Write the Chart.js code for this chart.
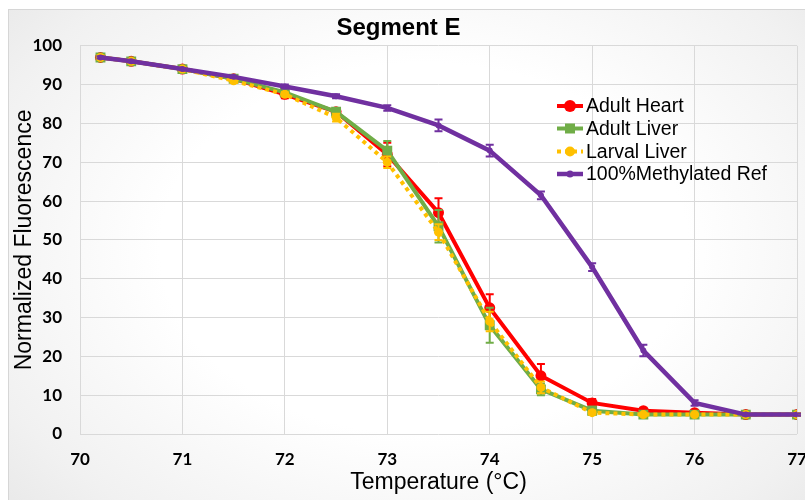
<!DOCTYPE html>
<html>
<head>
<meta charset="utf-8">
<script src="https://cdn.jsdelivr.net/npm/chart.js@4"></script>
<style>
  html, body { margin: 0; padding: 0; background: #fff; }
  #wrap { position: relative; width: 805px; height: 500px; overflow: hidden; }
  #frame {
    position: absolute; left: 8px; top: 9px; width: 830px; height: 530px;
    border: 1px solid #d6d6d6;
    background: radial-gradient(ellipse at 50% 45%, #ffffff 45%, #f1f1f1 80%, #e6e6e6 100%);
  }
  canvas { position: absolute; left: 0; top: 0; }
</style>
</head>
<body>
<div id="wrap">
  <div id="frame"></div>
  <canvas id="meltChart" width="805" height="500"></canvas>
</div>
<script>
const temps = [70.2, 70.5, 71, 71.5, 72, 72.5, 73, 73.5, 74, 74.5, 75, 75.5, 76, 76.5, 77];

const adultHeart   = [97, 96, 94, 91.5, 87.5, 83, 72, 57, 32.5, 15, 8, 6, 5.5, 5, 5];
const adultLiver   = [97, 96, 94, 91.5, 88, 83, 73, 53.5, 28, 11.5, 6, 5, 5, 5, 5];
const larvalLiver  = [97, 96, 94, 91, 87.5, 81.5, 70, 52, 29, 12, 5.5, 5, 5, 5, 5];
const methylRef    = [97, 96, 94, 92, 89.5, 87, 84, 79.5, 73, 61.5, 43, 21.5, 8, 5, 5];

const heartErr  = [0.5, 0.5, 0.5, 0.5, 1, 1, 3, 3.7, 3.5, 3, 1, 0.5, 0.5, 0.3, 0.3];
const liverErr  = [0.5, 0.5, 0.5, 0.5, 0.5, 1, 2.5, 4.2, 4.5, 1.5, 1, 0.5, 0.5, 0.3, 0.3];
const larvalErr = [0.5, 0.5, 0.5, 0.5, 0.5, 1, 1.5, 2, 2.5, 1.5, 0.5, 0.3, 0.3, 0.3, 0.3];
const methylErr = [0.3, 0.3, 0.3, 0.3, 0.5, 0.5, 0.7, 1.5, 1.5, 1, 1, 1.5, 0.7, 0.3, 0.3];

const xTicks = [70, 71, 72, 73, 74, 75, 76, 77];
const yTicks = [0, 10, 20, 30, 40, 50, 60, 70, 80, 90, 100];

const RED = '#ff0000', GREEN = '#70ad47', YELLOW = '#ffc000', PURPLE = '#7030a0';

function pts(values) {
  return temps.map((t, i) => ({ x: t, y: values[i] }));
}

const datasets = [
  { label: 'Adult Heart', data: pts(adultHeart), err: heartErr, borderColor: RED, backgroundColor: RED,
    borderWidth: 4, pointStyle: 'circle', pointRadius: 5.5, pointBorderWidth: 0, order: 4 },
  { label: 'Adult Liver', data: pts(adultLiver), err: liverErr, borderColor: GREEN, backgroundColor: GREEN,
    borderWidth: 4, pointStyle: 'rect', pointRadius: 7, pointBorderWidth: 0, order: 3 },
  { label: 'Larval Liver', data: pts(larvalLiver), err: larvalErr, borderColor: YELLOW, backgroundColor: YELLOW,
    borderWidth: 4, borderDash: [4, 4], pointStyle: 'circle', pointRadius: 4.5, pointBorderWidth: 0, order: 2 },
  { label: '100%Methylated Ref', data: pts(methylRef), err: methylErr, borderColor: PURPLE, backgroundColor: PURPLE,
    borderWidth: 4.5, pointStyle: 'circle', pointRadius: 3, pointBorderWidth: 0, order: 1 }
];

// error bars drawn right after each line so the layering matches
const errorBars = {
  id: 'errorBars',
  afterDatasetDraw(chart, args) {
    const ds = chart.data.datasets[args.index];
    const xs = chart.scales.x, ys = chart.scales.y;
    const c = chart.ctx;
    c.save();
    c.strokeStyle = ds.borderColor;
    c.lineWidth = 2;
    ds.data.forEach((p, i) => {
      const e = ds.err[i];
      if (!e) return;
      const px = xs.getPixelForValue(p.x);
      const top = ys.getPixelForValue(p.y + e);
      const bot = ys.getPixelForValue(p.y - e);
      c.beginPath();
      c.moveTo(px, top); c.lineTo(px, bot);
      c.moveTo(px - 4, top); c.lineTo(px + 4, top);
      c.moveTo(px - 4, bot); c.lineTo(px + 4, bot);
      c.stroke();
    });
    c.restore();
  }
};

const insideLegend = {
  id: 'insideLegend',
  afterDraw(chart) {
    const c = chart.ctx;
    const x0 = 557, x1 = 583, tx = 586;
    const rows = [106, 128.5, 151.5, 174];
    c.save();
    c.font = '19.5px "Liberation Sans", Arial, sans-serif';
    c.textBaseline = 'middle';
    chart.data.datasets.forEach((ds, i) => {
      const y = rows[i];
      c.strokeStyle = ds.borderColor;
      c.fillStyle = ds.borderColor;
      c.lineWidth = ds.borderWidth;
      c.setLineDash(ds.borderDash || []);
      c.beginPath(); c.moveTo(x0, y); c.lineTo(x1, y); c.stroke();
      c.setLineDash([]);
      const mx = (x0 + x1) / 2;
      c.beginPath();
      if (ds.pointStyle === 'rect') {
        c.rect(mx - 5, y - 5, 10, 10);
      } else {
        c.arc(mx, y, ds.pointRadius + 0.5, 0, Math.PI * 2);
      }
      c.fill();
      c.fillStyle = '#000';
      c.fillText(ds.label, tx, y + 1);
    });
    c.restore();
  }
};

const ctx = document.getElementById('meltChart').getContext('2d');

new Chart(ctx, {
  type: 'line',
  data: { datasets: datasets },
  plugins: [errorBars, insideLegend],
  options: {
    responsive: false,
    animation: false,
    layout: { padding: { left: 0, right: 8, top: 0, bottom: 0 } },
    plugins: {
      legend: { display: false },
      tooltip: { enabled: false },
      title: {
        display: true,
        text: 'Segment E',
        color: '#000',
        font: { family: '"Liberation Sans", Arial, sans-serif', size: 24, weight: 'bold' },
        padding: { top: 14, bottom: 3 }
      }
    },
    scales: {
      x: {
        type: 'linear',
        min: 70, max: 77,
        afterBuildTicks(scale) { scale.ticks = xTicks.map(v => ({ value: v })); },
        afterFit(scale) { scale.height = 66; scale.paddingRight = 0; scale.paddingLeft = 0; },
        grid: { color: '#d9d9d9', lineWidth: 1, drawTicks: false },
        border: { display: false },
        ticks: {
          color: '#000', padding: 15, maxRotation: 0,
          font: { family: 'Lato, sans-serif', size: 17, weight: 'bold' }
        },
        title: {
          display: true,
          text: 'Temperature (°C)',
          color: '#000',
          font: { family: '"Liberation Sans", Arial, sans-serif', size: 23 },
          padding: { top: 0, bottom: 4 }
        }
      },
      y: {
        min: 0, max: 100,
        afterBuildTicks(scale) { scale.ticks = yTicks.map(v => ({ value: v })); },
        afterFit(scale) { scale.width = 80; },
        grid: { color: '#d9d9d9', lineWidth: 1, drawTicks: false },
        border: { display: false },
        ticks: {
          color: '#000', padding: 18,
          font: { family: 'Lato, sans-serif', size: 17, weight: 'bold' }
        },
        title: {
          display: true,
          text: 'Normalized Fluorescence',
          color: '#000',
          font: { family: '"Liberation Sans", Arial, sans-serif', size: 23 },
          padding: { top: 11, bottom: 0 }
        }
      }
    }
  }
});
</script>
</body>
</html>
